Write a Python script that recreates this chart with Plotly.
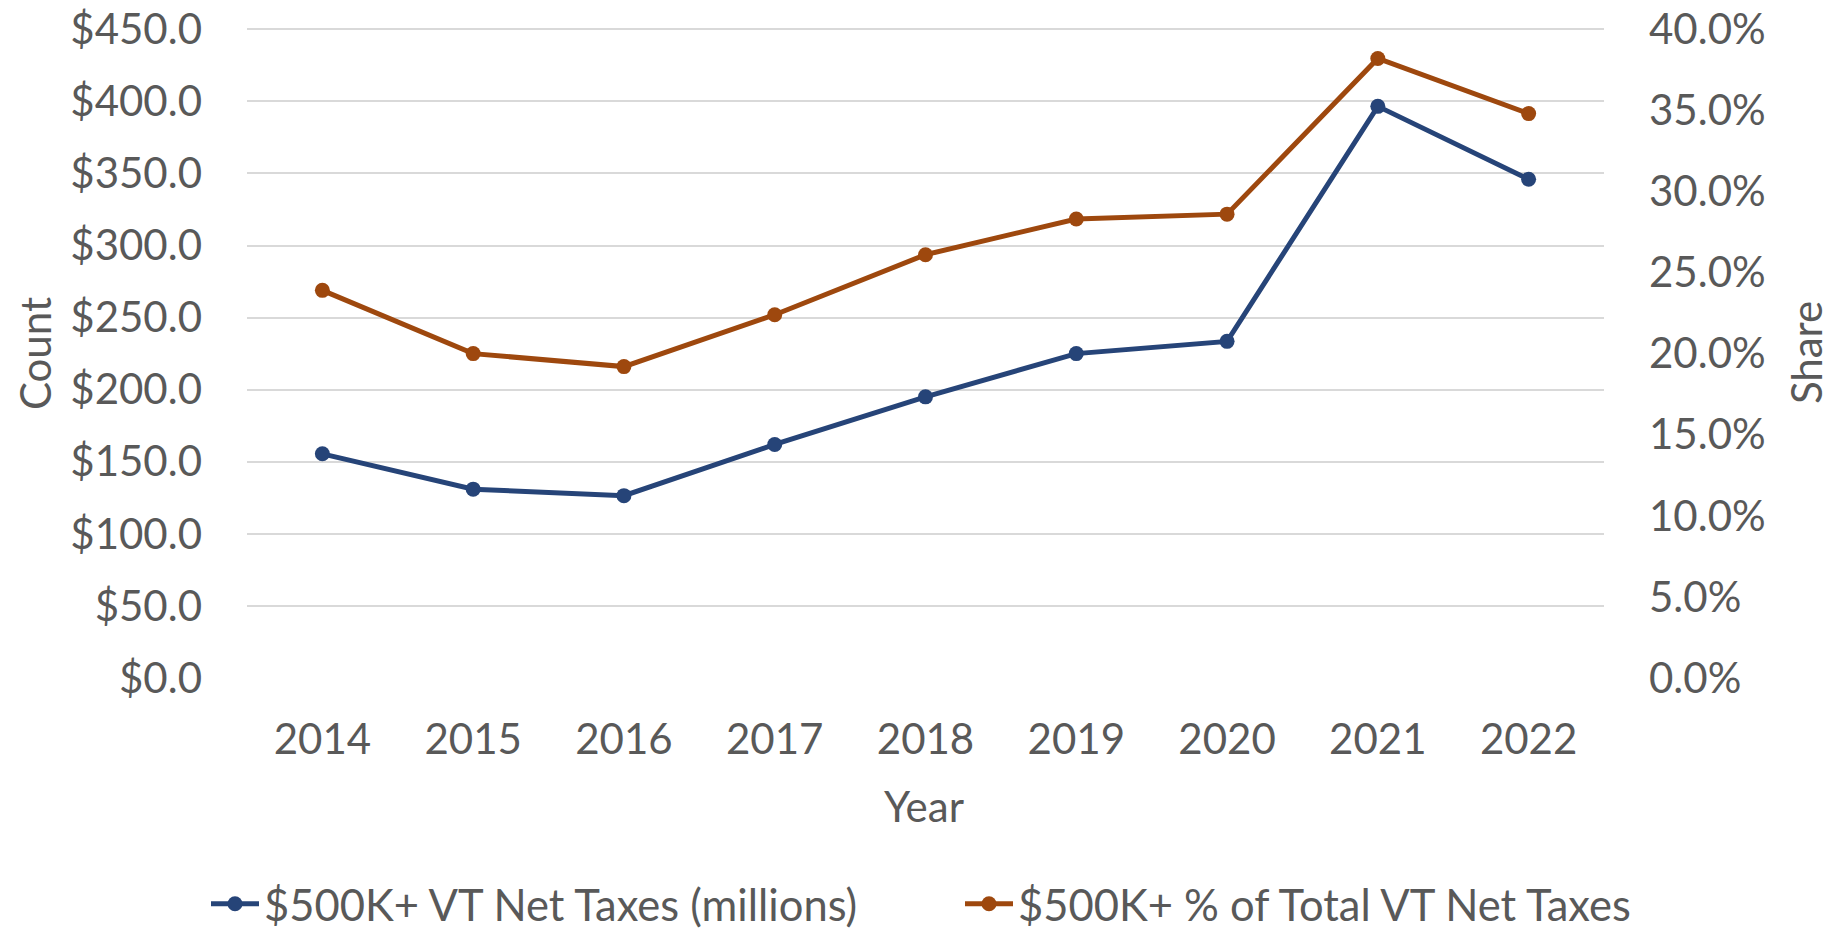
import plotly.graph_objects as go

years = ["2014", "2015", "2016", "2017", "2018", "2019", "2020", "2021", "2022"]
net_taxes_millions = [155.5, 131.0, 126.5, 162.0, 195.0, 225.0, 233.5, 396.5, 346.0]
share_of_total = [0.239, 0.200, 0.192, 0.224, 0.261, 0.283, 0.286, 0.382, 0.348]

left_ticks = [0, 50, 100, 150, 200, 250, 300, 350, 400, 450]
right_ticks = [0, 0.05, 0.10, 0.15, 0.20, 0.25, 0.30, 0.35, 0.40]

BLUE = "#264478"
ORANGE = "#9E480E"
GREY = "#595959"
GRID = "#D9D9D9"
FONT = "Lato"
FS = 42

# page body has an 8px default margin; compensate so screen positions match
OFF = 8
EXT = 1.005  # small headroom so the top gridline is drawn
B_EDGE = 678 - OFF
H_INNER = (678 - 29) * EXT          # plot-area height incl. headroom
T = B_EDGE - H_INNER
L, R_EDGE = 247 - OFF, 1604 - OFF
W, H = 1834, 929

fig = go.Figure()
fig.add_trace(go.Scatter(
    x=years, y=net_taxes_millions, name="$500K+ VT Net Taxes (millions)",
    mode="lines+markers", line=dict(color=BLUE, width=5),
    marker=dict(color=BLUE, size=15), yaxis="y"))
fig.add_trace(go.Scatter(
    x=years, y=share_of_total, name="$500K+ % of Total VT Net Taxes",
    mode="lines+markers", line=dict(color=ORANGE, width=5),
    marker=dict(color=ORANGE, size=15), yaxis="y2"))

W0, H0 = R_EDGE - L, B_EDGE - T

def px2paper(px, py):
    return (px - OFF - L) / W0, (B_EDGE - (py - OFF)) / H0

lx, ly = px2paper(206, 904)

fig.update_layout(
    width=W, height=H, autosize=False,
    margin=dict(l=L, r=W - R_EDGE, t=T, b=H - B_EDGE, autoexpand=False),
    paper_bgcolor="white", plot_bgcolor="white",
    font=dict(family=FONT, size=FS, color=GREY),
    showlegend=True,
    legend=dict(orientation="h", x=lx, xanchor="left", y=ly, yanchor="middle",
                font=dict(family=FONT, size=43.5, color=GREY),
                entrywidth=691, entrywidthmode="pixels", itemwidth=48,
                bgcolor="rgba(0,0,0,0)"),
    xaxis=dict(type="category", range=[-0.5, 8.5], showgrid=False, showline=False,
               zeroline=False, ticks="", ticklabelstandoff=33,
               tickfont=dict(family=FONT, size=FS, color=GREY)),
    yaxis=dict(range=[0, 450 * EXT], tickvals=left_ticks,
               ticktext=["$" + f"{v:.1f}" for v in left_ticks],
               showgrid=True, gridcolor=GRID, gridwidth=2, zeroline=False,
               showline=False, ticks="", ticklabelstandoff=44,
               ticklabeloverflow="allow",
               tickfont=dict(family=FONT, size=FS, color=GREY)),
    yaxis2=dict(range=[0, 0.40 * EXT], tickvals=right_ticks, tickformat=".1%",
                overlaying="y", side="right", showgrid=False, zeroline=False,
                showline=False, ticks="", ticklabelstandoff=44,
                ticklabeloverflow="allow",
                tickfont=dict(family=FONT, size=FS, color=GREY)),
)

titles = [("Count", 35, 353, -90), ("Share", 1806, 353, -90), ("Year", 924, 806, 0)]
for text, px, py, ang in titles:
    ax, ay = px2paper(px, py)
    fig.add_annotation(text=text, x=ax, y=ay, xref="paper", yref="paper",
                       xanchor="center", yanchor="middle", showarrow=False,
                       textangle=ang, font=dict(family=FONT, size=FS, color=GREY))

fig.write_html("out.html")
